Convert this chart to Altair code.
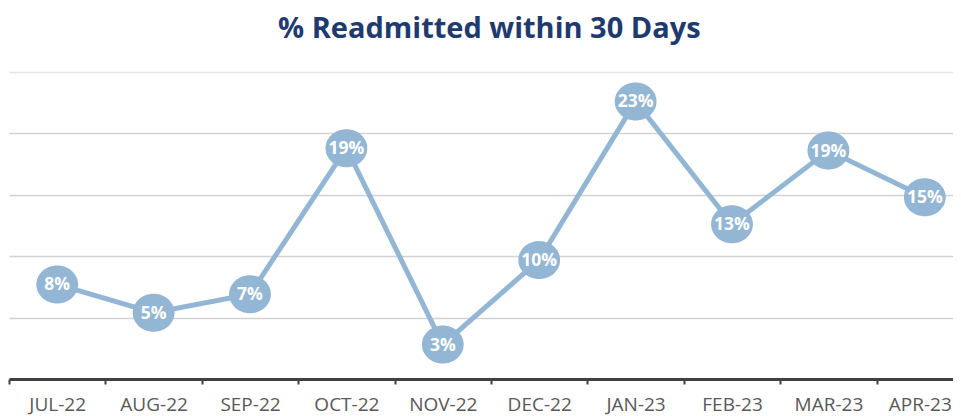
import altair as alt
import pandas as pd

months = ["JUL-22", "AUG-22", "SEP-22", "OCT-22", "NOV-22",
          "DEC-22", "JAN-23", "FEB-23", "MAR-23", "APR-23"]
pct = [7.7, 5.4, 6.9, 18.8, 2.8, 9.7, 22.6, 12.6, 18.6, 14.8]

df = pd.DataFrame({"month": months, "pct": pct})
df["label"] = [f"{round(v):.0f}%" for v in pct]

blue = "#93B6D4"

x = alt.X("month:N", sort=months, title=None,
          scale=alt.Scale(range=[0, 964], paddingInner=0, paddingOuter=0),
          axis=alt.Axis(labelAngle=0, labelFont="Open Sans", labelFontSize=19,
                        labelColor="#595959", domainColor="#404040", domainWidth=3,
                        tickColor="#404040", tickWidth=2, tickSize=5, tickBand="extent",
                        labelPadding=11, grid=False,
                        labelOffset=alt.ExprRef("datum.value === 'APR-23' ? -5 : 0")))
y = alt.Y("pct:Q", title=None,
          scale=alt.Scale(domain=[0, 25], nice=False, zero=True),
          axis=alt.Axis(values=[0, 5, 10, 15, 20, 25], labels=False, ticks=False,
                        domain=False, gridWidth=1.5,
                        gridColor=alt.ExprRef("datum.value === 25 ? '#E6E6E6' : '#D2D2D2'")))

base = alt.Chart(df).encode(x=x, y=y)

line = base.mark_line(color=blue, strokeWidth=5)
dots = base.mark_point(filled=True, opacity=1, color=blue, size=1444,
                       shape="M-1.1,0A1.1,1,0,1,0,1.1,0A1.1,1,0,1,0,-1.1,0Z")
labels = base.mark_text(color="white", font="Open Sans", fontWeight="bold",
                        fontSize=17.5, baseline="middle", dy=1).encode(text="label:N")

chart = alt.layer(line, dots, labels).properties(
    width=944, height=307,
    padding={"left": 1, "top": 64, "right": 0, "bottom": 40},
    autosize=alt.AutoSizeParams(type="none"),
    title=alt.Title("% Readmitted within 30 Days", font="Open Sans", fontSize=29,
                    fontWeight="bold", color="#1F3A6E", anchor="start", dx=270,
                    offset=28),
).configure_view(stroke=None)

chart.save("out.html", embed_options={"renderer": "svg", "actions": False})
